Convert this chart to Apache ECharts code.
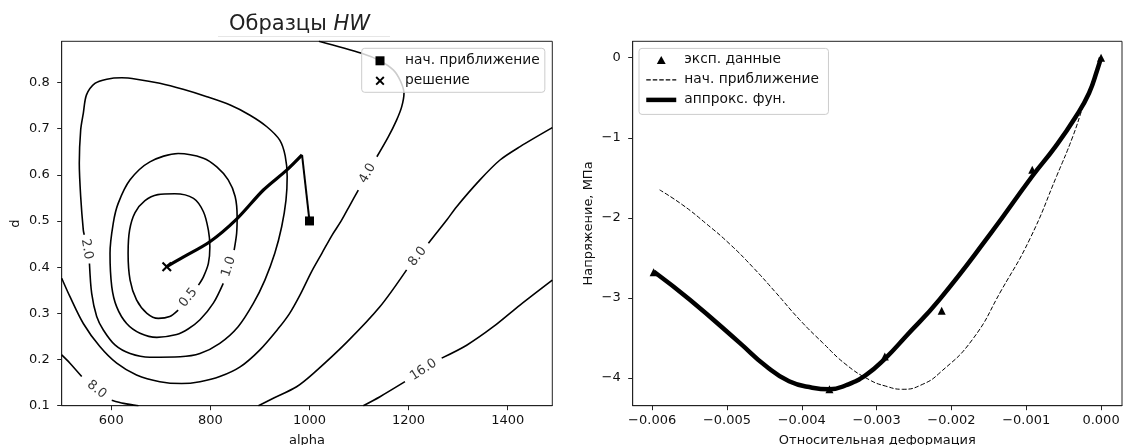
<!DOCTYPE html>
<html><head><meta charset="utf-8">
<script src="https://cdn.jsdelivr.net/npm/echarts@6/dist/echarts.min.js"></script>
<style>html,body{margin:0;padding:0;background:#fff}#c{width:1123px;height:445px}</style>
</head><body><div id="c"></div>
<script>
// ---------- tick labels ----------
const alphaTicks = [600, 800, 1000, 1200, 1400];
const dTicks = [0.1, 0.2, 0.3, 0.4, 0.5, 0.6, 0.7, 0.8];
const strainTicks = [-0.006, -0.005, -0.004, -0.003, -0.002, -0.001, 0];
const stressTicks = [-4, -3, -2, -1, 0];

// ---------- left panel: contour lines [alpha, d] (pieces split at label gaps) ----------
const contour05 = [[735,0.307],[718,0.293],[695,0.289],[672,0.300],[651,0.329],[638,0.372],[634,0.430],[637,0.480],[648,0.518],[668,0.544],[694,0.557],[728,0.559],[766,0.549],[786,0.520],[796,0.480],[799,0.444],[796,0.408],[786,0.379],[776,0.361]];
const contour10 = [[826,0.365],[806,0.322],[779,0.286],[755,0.266],[732,0.254],[692,0.248],[658,0.257],[631,0.278],[611,0.314],[601,0.358],[597.5,0.430],[604,0.495],[614,0.538],[638,0.589],[678,0.628],[735,0.646],[786,0.636],[813,0.617],[836,0.589],[850,0.553],[854,0.509],[853,0.473],[848,0.437]];
const contour20 = [[556,0.408],[560.5,0.343],[570.6,0.293],[584,0.264],[608,0.231],[638,0.213],[678,0.205],[739,0.206],[779,0.213],[819,0.235],[856,0.271],[887,0.322],[910,0.372],[930,0.430],[944,0.488],[952.6,0.545],[955,0.596],[951,0.641],[940,0.675],[914,0.704],[880,0.729],[840,0.751],[793,0.769],[745,0.785],[698,0.798],[651,0.807],[621,0.810],[591,0.807],[567,0.798],[550,0.773],[543.6,0.733],[538.3,0.697],[535.5,0.625],[538.3,0.553],[543.6,0.480],[545.5,0.470]];
const contour40a = [[1019,0.889],[1105,0.863],[1142,0.847],[1169,0.827],[1184,0.802],[1190.7,0.776],[1186,0.747],[1176,0.719],[1159,0.682],[1136,0.639]];
const contour40b = [[1098.5,0.567],[1082,0.535],[1064,0.500],[1046,0.470],[1025,0.430],[1004,0.390],[981,0.340],[960,0.300],[937,0.267],[900,0.221],[860,0.184],[819,0.163],[779,0.152],[742,0.148],[698,0.152],[651,0.1665],[611,0.192],[577,0.228],[543.6,0.278],[516.7,0.336],[500,0.376]];
const contour80La = [[500,0.210],[516.7,0.192],[540.4,0.163]];
const contour80Lb = [[601,0.112],[625,0.105],[655,0.100]];
const contour80Ra = [[897,0.100],[927,0.116],[974,0.141],[1008,0.170],[1075,0.237],[1142,0.314],[1196,0.394]];
const contour80Rb = [[1240,0.452],[1277,0.502],[1297,0.531],[1344,0.589],[1384.5,0.632],[1425,0.661],[1490,0.702]];
const contour160a = [[1108.6,0.100],[1142.3,0.1195],[1192.7,0.152]];
const contour160b = [[1266.8,0.203],[1317.2,0.231],[1371,0.271],[1424.8,0.318],[1490,0.372]];

// contour level labels
const contourLabelText = ['0.5', '1.0', '2.0', '4.0', '8.0', '16.0', '8.0'];
const contourLabelAlpha = [755.5, 837, 550.7, 1117, 1218, 1230, 570.7];
const contourLabelD = [0.334, 0.401, 0.439, 0.603, 0.423, 0.1775, 0.135];

// optimisation path
const pathStep1 = [[1000,0.500],[985,0.643]];
const pathRest = [[985,0.643],[954,0.610],[907,0.567],[853,0.504],[799,0.455],[739,0.418],[712,0.401]];
const startPoint = [[1000, 0.5]];
const solutionPoint = [[712, 0.401]];

// ---------- right panel ----------
const expStrain = [-0.00598, -0.00363, -0.00289, -0.00213, -0.00092, 0];
const expStress = [-2.68, -4.14, -3.73, -3.16, -1.40, 0];
const initStrain = [-0.00590,-0.00559,-0.00528,-0.00497,-0.00466,-0.00434,-0.00403,-0.00372,-0.00341,-0.00310,-0.00288,-0.00265,-0.00239,-0.00215,-0.00172,-0.00133,-0.00095,-0.00059,-0.00038,-0.00023,-0.00013,0];
const initStress = [-1.65,-1.84,-2.07,-2.32,-2.61,-2.94,-3.27,-3.56,-3.83,-4.02,-4.10,-4.14,-4.08,-3.93,-3.52,-2.90,-2.26,-1.47,-0.99,-0.58,-0.33,0];
const fitStrain = [-0.00598,-0.00550,-0.00483,-0.00448,-0.00417,-0.00386,-0.00363,-0.00341,-0.00314,-0.00288,-0.00261,-0.00216,-0.00148,-0.00092,-0.00061,-0.00034,-0.00016,-0.00005,0];
const fitStress = [-2.67,-3.02,-3.56,-3.85,-4.04,-4.12,-4.14,-4.09,-3.96,-3.75,-3.48,-3.02,-2.20,-1.48,-1.11,-0.74,-0.44,-0.15,0];

// ---------- styling ----------
const FONT = 'DejaVu Sans';
const TXT = '#111';
const labelAngles = [51, 72, -80, 61, 51, 33, -38];
const pairs = (xs, ys) => xs.map((x, i) => [x, ys[i]]);
const minusFmt = (digits) => (v) => (v === 0 ? (0).toFixed(digits) : (v < 0 ? '\u2212' : '') + Math.abs(v).toFixed(digits));
const X_PATH = 'path://M1.5,0L5,3.5L8.5,0L10,1.5L6.5,5L10,8.5L8.5,10L5,6.5L1.5,10L0,8.5L3.5,5L0,1.5Z';
const SQUARE_PATH = 'path://M0,0L10,0L10,10L0,10Z';
const TRIANGLE_PATH = 'path://M5,0L10,9L0,9Z';
const HIDDEN_SYMBOL = { color: 'transparent', borderWidth: 0, opacity: 0 };

function contourSeries(data) {
  return { type: 'line', xAxisIndex: 0, yAxisIndex: 0, data: data, smooth: 0.3,
    symbol: 'none', silent: true, clip: true, z: 2,
    lineStyle: { color: '#000', width: 1.6 } };
}

function axisCommon(ticks, fmt, margin) {
  return {
    type: 'value', splitLine: { show: false },
    axisLine: { show: true, onZero: false, lineStyle: { color: '#222', width: 1 } },
    axisTick: { show: true, length: 4.5, customValues: ticks, lineStyle: { color: '#222', width: 1 } },
    axisLabel: { customValues: ticks, formatter: fmt, margin: margin, fontFamily: FONT, fontSize: 13, color: TXT },
    nameTextStyle: { fontFamily: FONT, fontSize: 13, color: TXT }
  };
}

const chart = echarts.init(document.getElementById('c'));
chart.setOption({
  animation: false,
  backgroundColor: '#fff',
  title: {
    text: '{a|Образцы }{b|HW}', left: 229, top: 14, padding: 0,
    textStyle: { rich: {
      a: { fontFamily: FONT, fontSize: 21, fontWeight: 'normal', color: '#222' },
      b: { fontFamily: FONT, fontSize: 21, fontWeight: 'normal', fontStyle: 'italic', color: '#222' }
    } }
  },
  graphic: [{ type: 'line', shape: { x1: 218, y1: 36.5, x2: 390, y2: 36.5 }, style: { stroke: '#e6e6e6', lineWidth: 1 }, silent: true }],
  grid: [
    { left: 61.7, top: 41.3, width: 490.6, height: 364.4, show: true, borderColor: '#222', borderWidth: 1,
      containLabel: false, outerBoundsMode: 'none' },
    { left: 632.7, top: 41.3, width: 489.3, height: 364.4, show: true, borderColor: '#222', borderWidth: 1,
      containLabel: false, outerBoundsMode: 'none' }
  ],
  xAxis: [
    Object.assign(axisCommon(alphaTicks, (v) => String(v), 8), { gridIndex: 0, min: 500, max: 1490,
      name: 'alpha', nameLocation: 'middle', nameGap: 28.5 }),
    Object.assign(axisCommon(strainTicks, minusFmt(3), 8), { gridIndex: 1, min: -0.00626, max: 0.00028,
      name: 'Относительная деформация', nameLocation: 'middle', nameGap: 28.5 })
  ],
  yAxis: [
    Object.assign(axisCommon(dTicks, (v) => v.toFixed(1), 12), { gridIndex: 0, min: 0.1, max: 0.889,
      name: 'd', nameLocation: 'middle', nameGap: 40 }),
    Object.assign(axisCommon(stressTicks, minusFmt(0), 12), { gridIndex: 1, min: -4.345, max: 0.205,
      name: 'Напряжение, МПа', nameLocation: 'middle', nameGap: 38 })
  ],
  legend: [
    { orient: 'vertical', left: 361.7, top: 48.3, selectedMode: false,
      data: [{ name: 'нач. приближение', icon: SQUARE_PATH }, { name: 'решение' }],
      itemWidth: 9, itemHeight: 9, itemGap: 5, padding: [5, 5, 4, 13.8],
      backgroundColor: 'rgba(255,255,255,0.8)', borderColor: '#cccccc', borderWidth: 1, borderRadius: 3,
      textStyle: { fontFamily: FONT, fontSize: 13.8, color: TXT, lineHeight: 15, padding: [0, 0, 0, 15.5] } },
    { orient: 'vertical', left: 639, top: 48.4, selectedMode: false,
      data: [
        { name: 'эксп. данные', icon: TRIANGLE_PATH },
        { name: 'нач. приближение ', itemStyle: HIDDEN_SYMBOL, lineStyle: { width: 1.2, type: [4.5, 2], color: '#000' } },
        { name: 'аппрокс. фун.', itemStyle: HIDDEN_SYMBOL, lineStyle: { width: 4.5, color: '#000' } }
      ],
      itemWidth: 30, itemHeight: 8, itemGap: 5, padding: [4, 5, 7, 5],
      backgroundColor: 'rgba(255,255,255,0.8)', borderColor: '#cccccc', borderWidth: 1, borderRadius: 3,
      textStyle: { fontFamily: FONT, fontSize: 13.8, color: TXT, lineHeight: 15, padding: [0, 0, 0, 3] } }
  ],
  series: [
    contourSeries(contour05), contourSeries(contour10), contourSeries(contour20),
    contourSeries(contour40a), contourSeries(contour40b),
    contourSeries(contour80La), contourSeries(contour80Lb),
    contourSeries(contour80Ra), contourSeries(contour80Rb),
    contourSeries(contour160a), contourSeries(contour160b),
    { type: 'scatter', xAxisIndex: 0, yAxisIndex: 0, silent: true, z: 3,
      symbolSize: 1, itemStyle: { color: 'transparent' },
      data: contourLabelText.map((t, i) => ({ name: t, value: [contourLabelAlpha[i], contourLabelD[i]],
        label: { rotate: labelAngles[i] } })),
      label: { show: true, position: 'inside', formatter: '{b}', fontFamily: FONT, fontSize: 13, color: '#000' } },
    { type: 'line', xAxisIndex: 0, yAxisIndex: 0, data: pathStep1, symbol: 'none', silent: true, z: 4,
      lineStyle: { color: '#000', width: 2 } },
    { type: 'line', xAxisIndex: 0, yAxisIndex: 0, data: pathRest, smooth: 0.3, symbol: 'none', silent: true, z: 4,
      lineStyle: { color: '#000', width: 3.2 } },
    { name: 'нач. приближение', type: 'scatter', xAxisIndex: 0, yAxisIndex: 0, data: startPoint,
      symbol: 'rect', symbolSize: 9, itemStyle: { color: '#000', opacity: 1 }, z: 5 },
    { name: 'решение', type: 'scatter', xAxisIndex: 0, yAxisIndex: 0, data: solutionPoint,
      symbol: X_PATH, symbolSize: 10, itemStyle: { color: '#000', opacity: 1 }, z: 5 },
    { name: 'эксп. данные', type: 'scatter', xAxisIndex: 1, yAxisIndex: 1, data: pairs(expStrain, expStress),
      symbol: 'triangle', symbolSize: 8, itemStyle: { color: '#000', opacity: 1 }, z: 5 },
    { name: 'нач. приближение ', type: 'line', xAxisIndex: 1, yAxisIndex: 1, data: pairs(initStrain, initStress),
      smooth: 0.5, symbol: 'none', lineStyle: { color: '#000', width: 1, type: [4.5, 2] }, itemStyle: { color: '#000' }, z: 3 },
    { name: 'аппрокс. фун.', type: 'line', xAxisIndex: 1, yAxisIndex: 1, data: pairs(fitStrain, fitStress),
      smooth: 0.5, symbol: 'none', lineStyle: { color: '#000', width: 4.5 }, itemStyle: { color: '#000' }, z: 4 }
  ]
});
</script>
</body></html>
